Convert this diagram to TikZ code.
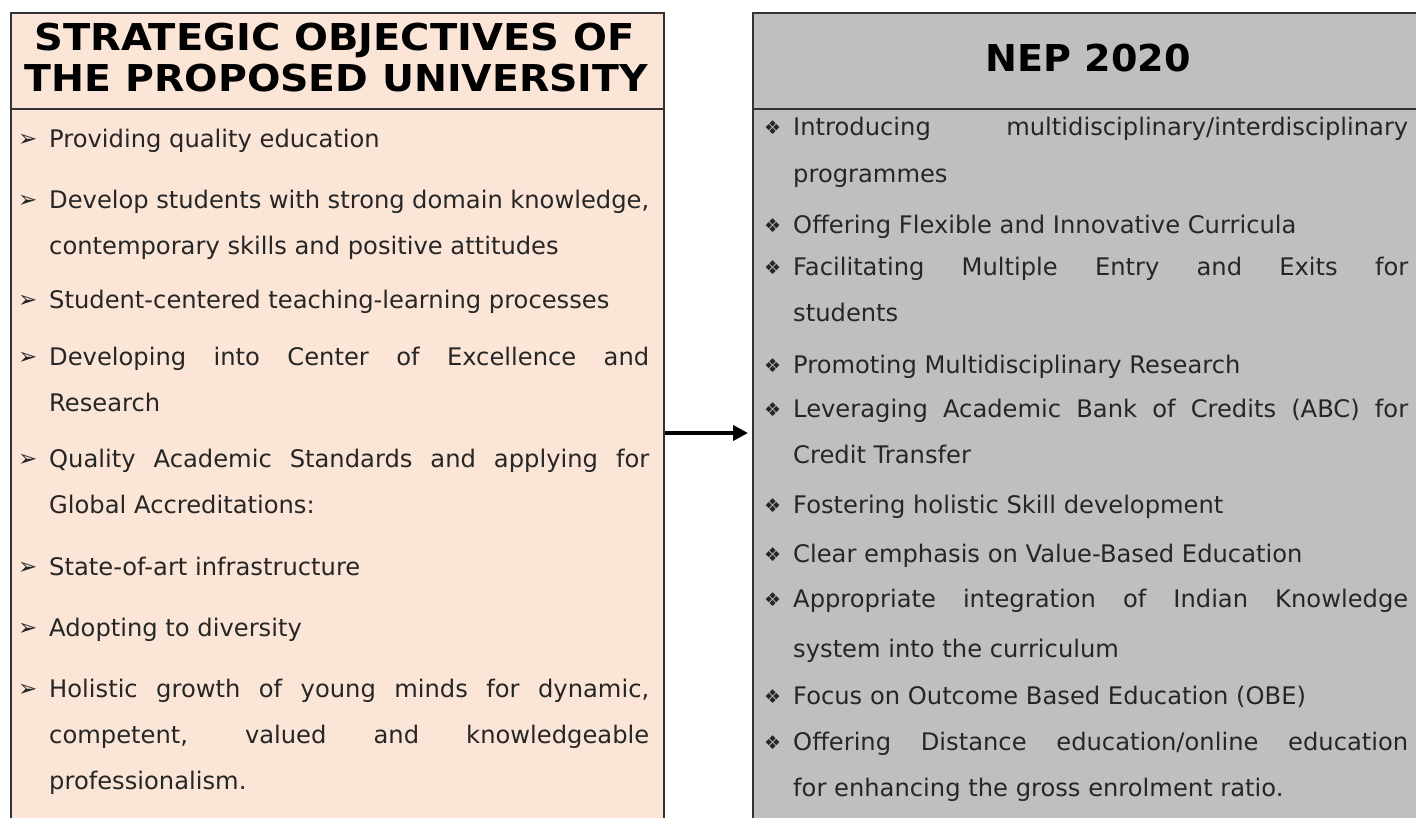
\documentclass[tikz,border=0pt]{standalone}
\usepackage{fontspec}
\setmainfont{DejaVu Sans}
\usetikzlibrary{arrows.meta}
\definecolor{peach}{HTML}{FBE5D6}
\definecolor{grayfill}{HTML}{BFBFBF}
\definecolor{bord}{HTML}{333333}
\definecolor{txt}{HTML}{262626}
\newcommand{\bodyfont}{\fontsize{24.2}{28}\selectfont}
\newcommand{\headfont}{\fontsize{37}{42}\selectfont\bfseries}
\newcommand{\LJ}[1]{\makebox[600pt][s]{#1}}
\newcommand{\RJ}[1]{\makebox[615pt][s]{#1}}
\begin{document}
\begin{tikzpicture}[x=1pt,y=-1pt,
  panel/.style={draw=bord, line width=2pt, rectangle, inner sep=0pt, anchor=north west},
  item/.style={anchor=base west, inner sep=0pt, text=txt, font=\bodyfont},
  arrowbul/.style={anchor=base west, inner sep=0pt, text=txt, font=\fontsize{23}{26}\selectfont},
  diabul/.style={anchor=base west, inner sep=0pt, text=txt, font=\fontsize{19}{22}\selectfont},
  head/.style={anchor=base, inner sep=0pt, font=\headfont, text=black},
  conn/.style={line width=4.5pt, -{Triangle[length=15pt,width=15pt]}, shorten >=4pt}]
\useasboundingbox (0,0) rectangle (1416,817);
\clip (0,0) rectangle (1416,817);
% panels
\node[panel, fill=peach, minimum width=653pt, minimum height=840pt] (L) at (10,12) {};
\node[panel, fill=grayfill, minimum width=680pt, minimum height=840pt] (R) at (752,12) {};
\node[panel, fill=peach, minimum width=653pt, minimum height=96pt] (LH) at (10,12) {};
\node[panel, fill=grayfill, minimum width=680pt, minimum height=96pt] (RH) at (752,12) {};
% headers
\node[head] (lh1) at (334.5,50) {\scalebox{1.08}[1]{STRATEGIC OBJECTIVES OF}};
\node[head] (lh2) at (336.5,91) {\scalebox{1.065}[1]{THE PROPOSED UNIVERSITY}};
\node[head] (rh1) at (1088,71) {\scalebox{1.03}[1]{NEP 2020}};
% connector
\draw[conn] (L.east) -- (R.west);
% left bullets
\foreach \n/\y in {b1/147,b2/208,b3/308,b4/365,b5/467,b6/575,b7/636,b8/697}
  \node[arrowbul] (l\n) at (18,\y-1) {➢};
% left items
\node[item] (l1) at (49,147) {Providing quality education};
\node[item] (l2a) at (49,208) {\LJ{Develop students with strong domain knowledge,}};
\node[item] (l2b) at (49,254) {contemporary skills and positive attitudes};
\node[item] (l3) at (49,308) {Student-centered teaching-learning processes};
\node[item] (l4a) at (49,365) {\LJ{Developing into Center of Excellence and}};
\node[item] (l4b) at (49,411) {Research};
\node[item] (l5a) at (49,467) {\LJ{Quality Academic Standards and applying for}};
\node[item] (l5b) at (49,513) {Global Accreditations:};
\node[item] (l6) at (49,575) {State-of-art infrastructure};
\node[item] (l7) at (49,636) {Adopting to diversity};
\node[item] (l8a) at (49,697) {\LJ{Holistic growth of young minds for dynamic,}};
\node[item] (l8b) at (49,743) {\LJ{competent, valued and knowledgeable}};
\node[item] (l8c) at (49,789) {professionalism.};
% right bullets
\foreach \n/\y in {b1/135,b2/233,b3/275,b4/373,b5/417,b6/513,b7/562,b8/607,b9/704,b10/750}
  \node[diabul] (r\n) at (764,\y-1) {❖};
% right items
\node[item] (r1a) at (793,135) {\RJ{Introducing multidisciplinary/interdisciplinary}};
\node[item] (r1b) at (793,182) {programmes};
\node[item] (r2) at (793,233) {Offering Flexible and Innovative Curricula};
\node[item] (r3a) at (793,275) {\RJ{Facilitating Multiple Entry and Exits for}};
\node[item] (r3b) at (793,321) {students};
\node[item] (r4) at (793,373) {Promoting Multidisciplinary Research};
\node[item] (r5a) at (793,417) {\RJ{Leveraging Academic Bank of Credits (ABC) for}};
\node[item] (r5b) at (793,463) {Credit Transfer};
\node[item] (r6) at (793,513) {Fostering holistic Skill development};
\node[item] (r7) at (793,562) {Clear emphasis on Value-Based Education};
\node[item] (r8a) at (793,607) {\RJ{Appropriate integration of Indian Knowledge}};
\node[item] (r8b) at (793,657) {system into the curriculum};
\node[item] (r9) at (793,704) {Focus on Outcome Based Education (OBE)};
\node[item] (r10a) at (793,750) {\RJ{Offering Distance education/online education}};
\node[item] (r10b) at (793,796) {for enhancing the gross enrolment ratio.};
\end{tikzpicture}
\end{document}
